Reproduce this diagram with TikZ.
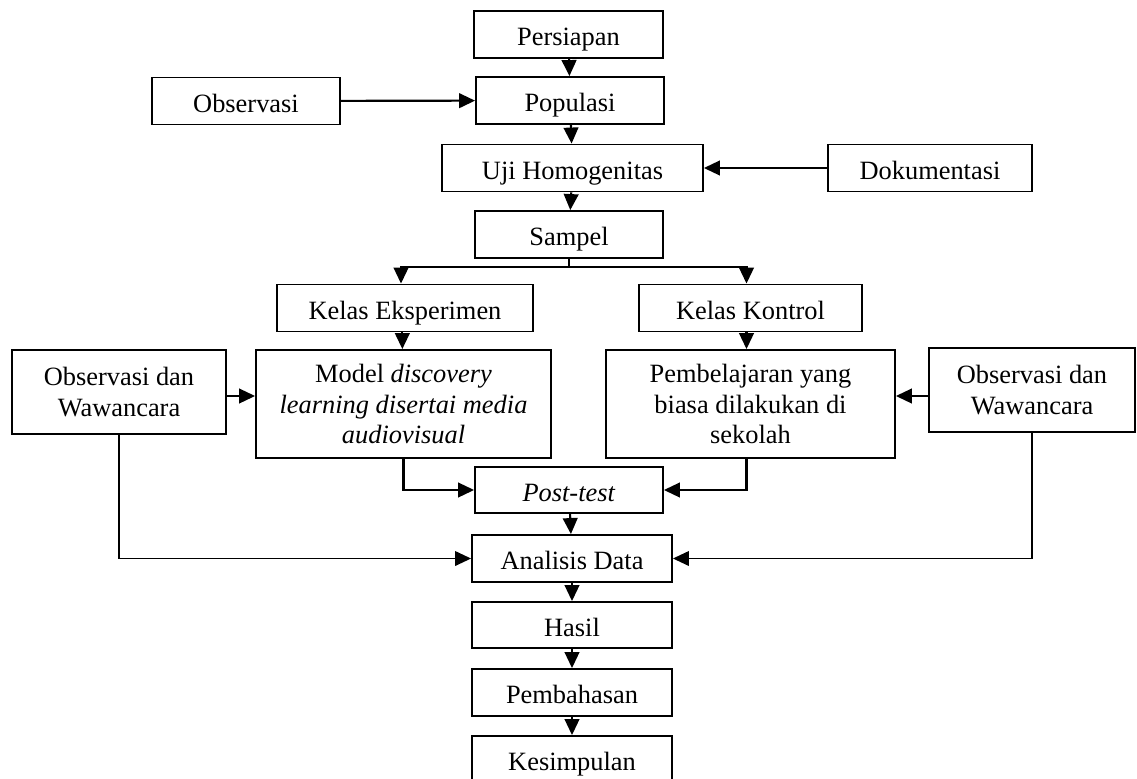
\documentclass[tikz,border=0pt]{standalone}
\usepackage{fontspec}
\setmainfont{Liberation Serif}
\usetikzlibrary{arrows.meta}
\newdimen\px \px=0.75pt
\begin{document}
\begin{tikzpicture}[x=0.75pt,y=-0.75pt,
  kotak/.style={draw,line width=1.4pt,inner sep=0pt,align=center,
    minimum height=47\px,font=\fontsize{19.8}{23.2}\selectfont},
  satu/.style={text height=17pt,text depth=0pt},
  panah/.style={line width=1.6pt,-{Triangle[length=12pt,width=11pt]}},
  garis/.style={line width=1.2pt,-{Triangle[length=12pt,width=11pt]}}]
\useasboundingbox (0,0) rectangle (1137,778);
 % alur utama
 \node[kotak,satu,minimum width=189\px] (persiapan) at (568.5,34.5) {Persiapan};
 \node[kotak,satu,minimum width=188\px] (populasi) at (570,100.5) {Populasi};
 \node[kotak,satu,minimum width=188\px] (observasi) at (246,101) {Observasi};
 \node[kotak,satu,minimum width=261\px] (uji) at (572.5,168) {Uji Homogenitas};
 \node[kotak,satu,minimum width=204\px] (dokumentasi) at (930,168) {Dokumentasi};
 \node[kotak,satu,minimum width=188\px] (sampel) at (569,234.5) {Sampel};
 %
 \node[kotak,satu,minimum width=256\px] (eksperimen) at (405,308) {Kelas Eksperimen};
 \node[kotak,satu,minimum width=223\px] (kontrol) at (750.5,308) {Kelas Kontrol};
 \node[kotak,minimum width=295\px,minimum height=108\px] (model) at (403.5,404)
   {Model \textit{discovery}\\ \textit{learning disertai media}\\ \textit{audiovisual}};
 \node[kotak,minimum width=289\px,minimum height=108\px] (biasa) at (750.5,404)
   {Pembelajaran yang\\ biasa dilakukan di\\ sekolah};
 \node[kotak,minimum width=214\px,minimum height=84\px] (obskiri) at (119,392)
   {Observasi dan\\ Wawancara};
 \node[kotak,minimum width=206\px,minimum height=84\px] (obskanan) at (1032,390)
   {Observasi dan\\ Wawancara};
 %
 \node[kotak,satu,minimum width=188\px,minimum height=46\px] (posttest) at (569,490) {\textit{Post-test}};
 \node[kotak,satu,minimum width=200\px] (analisis) at (572,558.5) {Analisis Data};
 \node[kotak,satu,minimum width=200\px,minimum height=46\px] (hasil) at (572,625) {Hasil};
 \node[kotak,satu,minimum width=200\px] (pembahasan) at (572,692.5) {Pembahasan};
 \node[kotak,satu,minimum width=200\px] (kesimpulan) at (572,759.5) {Kesimpulan};
 % panah
 \draw[panah] (persiapan) -- (populasi);
 \draw[panah] (observasi) -- (populasi);
 \draw[panah] (populasi) -- (uji);
 \draw[panah] (dokumentasi) -- (uji);
 \draw[panah] (uji) -- (sampel);
 \draw[line width=1.6pt] (sampel.south) -- ++(0,8) coordinate (cabang);
 \draw[panah] (cabang) -| ([xshift=-3pt]eksperimen.north);
 \draw[panah] (cabang) -| ([xshift=-3pt]kontrol.north);
 \draw[panah] ([xshift=-2pt]eksperimen.south) -- ([xshift=-2pt]eksperimen.south |- model.north);
 \draw[panah] ([xshift=-3pt]kontrol.south) -- ([xshift=-3pt]kontrol.south |- biasa.north);
 \draw[panah] ([yshift=-3pt]obskiri.east) -- ([yshift=-3pt]obskiri.east -| model.west);
 \draw[panah] ([yshift=-4.5pt]obskanan.west) -- ([yshift=-4.5pt]obskanan.west -| biasa.east);
 \draw[panah] (model.south) |- (posttest.west);
 \draw[panah] ([xshift=-3pt]biasa.south) |- (posttest.east);
 \draw[panah] (posttest) -- (analisis);
 \draw[garis] (obskiri.south) |- (analisis.west);
 \draw[garis] (obskanan.south) |- (analisis.east);
 \draw[panah] (analisis) -- (hasil);
 \draw[panah] (hasil) -- (pembahasan);
 \draw[panah] (pembahasan) -- (kesimpulan);
\end{tikzpicture}
\end{document}
